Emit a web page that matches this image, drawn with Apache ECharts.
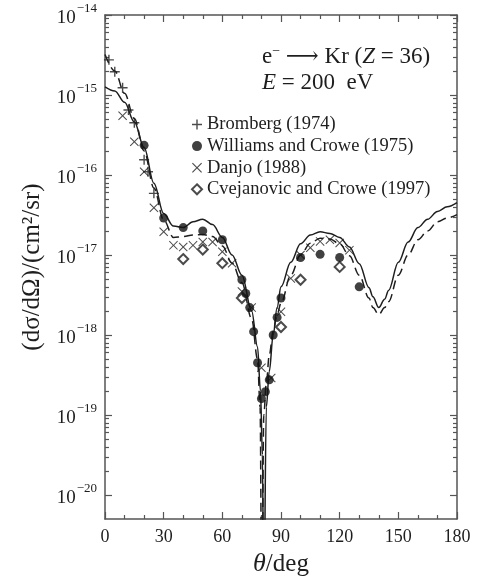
<!DOCTYPE html>
<html>
<head>
<meta charset="utf-8">
<script src="https://cdn.jsdelivr.net/npm/echarts@6/dist/echarts.min.js"></script>
<style>
  html, body { margin: 0; padding: 0; background: #fff; }
  #chart { width: 477px; height: 578px; }
</style>
</head>
<body>
<div id="chart"></div>
<script>
// theory curves (angle in deg, cross section in cm^2/sr)
var solidAngles = [0, 5, 10, 15, 20, 25, 30, 35, 40, 45, 50, 55, 60, 65, 70, 75, 78, 79.5, 80.5, 81.2, 82.5, 84, 86, 88, 90, 95, 100, 105, 110, 115, 120, 125, 130, 135, 137, 140, 143, 145, 150, 155, 160, 165, 170, 175, 180];
var solidValues = [1.26e-15, 1.12e-15, 8.1e-16, 4.6e-16, 2.2e-16, 7.9e-17, 3.3e-17, 2.3e-17, 2.2e-17, 2.6e-17, 2.8e-17, 2.4e-17, 1.66e-17, 1.0e-17, 5.6e-18, 2.0e-18, 7.1e-19, 2.0e-19, 3.2e-20, 3e-22, 1.26e-19, 3.5e-19, 1.0e-18, 2.2e-18, 4.0e-18, 8.1e-18, 1.38e-17, 1.78e-17, 1.95e-17, 1.86e-17, 1.66e-17, 1.26e-17, 7.8e-18, 3.9e-18, 3.0e-18, 2.2e-18, 2.8e-18, 3.6e-18, 8.1e-18, 1.45e-17, 2.2e-17, 2.8e-17, 3.5e-17, 4.0e-17, 4.5e-17];

var dashedAngles = [0, 5, 10, 15, 20, 25, 30, 35, 40, 45, 50, 55, 60, 65, 70, 75, 78, 79.3, 80.2, 81.2, 82.5, 84, 86, 88, 90, 95, 100, 105, 110, 115, 120, 125, 130, 135, 137, 140, 143, 145, 150, 155, 160, 165, 170, 175, 180];
var dashedValues = [3.2e-15, 2.0e-15, 1.05e-15, 5.1e-16, 2.0e-16, 6.9e-17, 2.75e-17, 1.66e-17, 1.7e-17, 1.78e-17, 1.8e-17, 1.7e-17, 1.3e-17, 7.9e-18, 4.5e-18, 1.6e-18, 5.0e-19, 1.26e-19, 3e-22, 1.0e-19, 2.5e-19, 5.6e-19, 1.12e-18, 1.8e-18, 2.5e-18, 5.6e-18, 1.0e-17, 1.4e-17, 1.62e-17, 1.58e-17, 1.38e-17, 9.8e-18, 5.6e-18, 2.9e-18, 2.2e-18, 1.8e-18, 2.2e-18, 2.6e-18, 5.6e-18, 1.0e-17, 1.55e-17, 2.0e-17, 2.6e-17, 2.9e-17, 3.2e-17];

// measurements
var brombergAngles = [2, 5, 9, 12, 15, 20, 22, 25];
var brombergValues = [2.75e-15, 1.95e-15, 1.23e-15, 6.5e-16, 4.5e-16, 1.55e-16, 1.1e-16, 5.9e-17];

var williamsAngles = [20, 30, 40, 50, 60, 70, 72, 74, 76, 78, 80, 82, 84, 86, 88, 90, 100, 110, 120, 130];
var williamsValues = [2.35e-16, 2.9e-17, 2.2e-17, 2.0e-17, 1.55e-17, 4.9e-18, 3.3e-18, 2.2e-18, 1.1e-18, 4.5e-19, 1.6e-19, 1.95e-19, 2.75e-19, 1.0e-18, 1.66e-18, 2.9e-18, 9.3e-18, 1.02e-17, 9.3e-18, 4.0e-18];

var danjoAngles = [9, 15, 20, 25, 30, 35, 40, 45, 50, 55, 60, 65, 70, 75, 80, 85, 90, 95, 100, 105, 110, 115, 120, 125];
var danjoValues = [5.5e-16, 2.6e-16, 1.1e-16, 3.9e-17, 1.95e-17, 1.32e-17, 1.26e-17, 1.32e-17, 1.45e-17, 1.45e-17, 1.1e-17, 7.9e-18, 3.5e-18, 2.2e-18, 3.9e-19, 2.9e-19, 1.95e-18, 5.1e-18, 1.0e-17, 1.23e-17, 1.48e-17, 1.55e-17, 1.41e-17, 1.15e-17];

var cvejAngles = [40, 50, 60, 70, 90, 100, 120];
var cvejValues = [8.9e-18, 1.17e-17, 7.9e-18, 2.9e-18, 1.26e-18, 4.9e-18, 7.1e-18];

var yDecades = [1e-20, 1e-19, 1e-18, 1e-17, 1e-16, 1e-15, 1e-14];
var yMin = 5.0119e-21, yMax = 1e-14;

var serif = '"Liberation Serif", "DejaVu Serif", serif';
var ink = '#1e1e1e';
var frame = '#555';

function pairs(xs, ys) {
  return xs.map(function (x, i) { return [x, ys[i]]; });
}

// minor log ticks 2..9 within each decade
var yMinor = [];
for (var e = -21; e <= -15; e++) {
  for (var m = 2; m <= 9; m++) {
    var v = m * Math.pow(10, e);
    if (v >= yMin && v <= yMax) yMinor.push(v);
  }
}

var plusPath = 'path://M4.3,0H5.7V4.3H10V5.7H5.7V10H4.3V5.7H0V4.3H4.3Z';
var crossPath = 'path://M0.8,0L5,4.2L9.2,0L10,0.8L5.8,5L10,9.2L9.2,10L5,5.8L0.8,10L0,9.2L4.2,5L0,0.8Z';

var chart = echarts.init(document.getElementById('chart'));

function yAxisDef(pos, ticks, len, showLine, showLabel) {
  return {
    type: 'log',
    logBase: 10,
    min: yMin,
    max: yMax,
    position: pos,
    axisLine: { show: showLine, lineStyle: { color: frame, width: 1.5 } },
    axisTick: { show: true, inside: true, length: len, customValues: ticks, lineStyle: { color: frame, width: 1.2 } },
    axisLabel: {
      show: showLabel,
      customValues: yDecades,
      margin: 8,
      formatter: function (val) {
        var ex = Math.round(Math.log(val) / Math.LN10);
        return '{b|10}{e|\u2212' + (-ex) + '}';
      },
      rich: {
        b: { fontFamily: serif, fontSize: 19, color: ink, padding: [6, 0, 0, 0], verticalAlign: 'bottom' },
        e: { fontFamily: serif, fontSize: 13, color: ink, verticalAlign: 'top', padding: [0, 0, 0, 1] }
      }
    },
    splitLine: { show: false }
  };
}

function xAxisDef(pos, showLabel) {
  return {
    type: 'value',
    min: 0,
    max: 180,
    interval: 30,
    position: pos,
    axisLine: { show: true, lineStyle: { color: frame, width: 1.5 } },
    axisTick: { show: true, inside: true, length: 7, lineStyle: { color: frame, width: 1.2 } },
    minorTick: { show: true, splitNumber: 3, length: 4, lineStyle: { color: frame, width: 1.2 } },
    splitLine: { show: false },
    minorSplitLine: { show: false },
    axisLabel: { show: showLabel, fontFamily: serif, fontSize: 18, color: ink, margin: 9 },
    name: showLabel ? '{i|\u03b8}{n|/deg}' : '',
    nameLocation: 'middle',
    nameGap: 32,
    nameTextStyle: {
      rich: {
        i: { fontFamily: serif, fontSize: 26, fontStyle: 'italic', color: ink },
        n: { fontFamily: serif, fontSize: 25, color: ink }
      }
    }
  };
}

var yLeft = yAxisDef('left', yDecades, 7, true, true);
yLeft.name = '(d\u03c3/d\u03a9)/(cm\u00b2/sr)';
yLeft.nameLocation = 'middle';
yLeft.nameGap = 60;
yLeft.nameTextStyle = { fontFamily: serif, fontSize: 25, color: ink };

var option = {
  animation: false,
  grid: { left: 105, right: 20, top: 15, bottom: 59, containLabel: false, outerBoundsMode: 'none' },
  xAxis: [xAxisDef('bottom', true), xAxisDef('top', false)],
  yAxis: [
    yLeft,
    yAxisDef('left', yMinor, 4, false, false),
    yAxisDef('right', yDecades, 7, true, false),
    yAxisDef('right', yMinor, 4, false, false)
  ],
  legend: {
    orient: 'vertical',
    left: 186,
    top: 110,
    itemWidth: 10,
    itemHeight: 10,
    itemGap: 2.6,
    textStyle: { fontFamily: serif, fontSize: 18.5, lineHeight: 16, color: ink },
    data: ['Bromberg (1974)', 'Williams and Crowe (1975)', 'Danjo (1988)', 'Cvejanovic and Crowe (1997)']
  },
  graphic: [
    {
      type: 'text',
      left: 262,
      top: 44,
      style: {
        text: '{n|e}{s|\u2212}{n| \u27f6 Kr (}{i|Z}{n| = 36)}\n{i|E}{n| = 200  eV}',
        rich: {
          n: { fontFamily: serif, fontSize: 23, fill: ink, lineHeight: 26 },
          i: { fontFamily: serif, fontSize: 23, fontStyle: 'italic', fill: ink, lineHeight: 26 },
          s: { fontFamily: serif, fontSize: 14, fill: ink, verticalAlign: 'top', lineHeight: 26 }
        }
      }
    }
  ],
  series: [
    {
      name: 'theory',
      type: 'line',
      data: pairs(solidAngles, solidValues),
      showSymbol: false,
      smooth: 0.35,
      smoothMonotone: 'x',
      clip: true,
      lineStyle: { color: ink, width: 1.5 },
      z: 2
    },
    {
      name: 'theory2',
      type: 'line',
      data: pairs(dashedAngles, dashedValues),
      showSymbol: false,
      smooth: 0.35,
      smoothMonotone: 'x',
      clip: true,
      lineStyle: { color: ink, width: 1.5, type: [9, 5] },
      z: 2
    },
    {
      name: 'Bromberg (1974)',
      type: 'scatter',
      data: pairs(brombergAngles, brombergValues),
      symbol: plusPath,
      symbolSize: 10,
      itemStyle: { color: ink },
      z: 3
    },
    {
      name: 'Williams and Crowe (1975)',
      type: 'scatter',
      data: pairs(williamsAngles, williamsValues),
      symbol: 'circle',
      symbolSize: 9,
      itemStyle: { color: '#111' },
      z: 4
    },
    {
      name: 'Danjo (1988)',
      type: 'scatter',
      data: pairs(danjoAngles, danjoValues),
      symbol: crossPath,
      symbolSize: 9,
      itemStyle: { color: ink },
      z: 3
    },
    {
      name: 'Cvejanovic and Crowe (1997)',
      type: 'scatter',
      data: pairs(cvejAngles, cvejValues),
      symbol: 'emptyDiamond',
      symbolSize: 10,
      itemStyle: { color: ink, borderColor: ink, borderWidth: 1 },
      z: 3
    }
  ]
};

chart.setOption(option);
</script>
</body>
</html>
